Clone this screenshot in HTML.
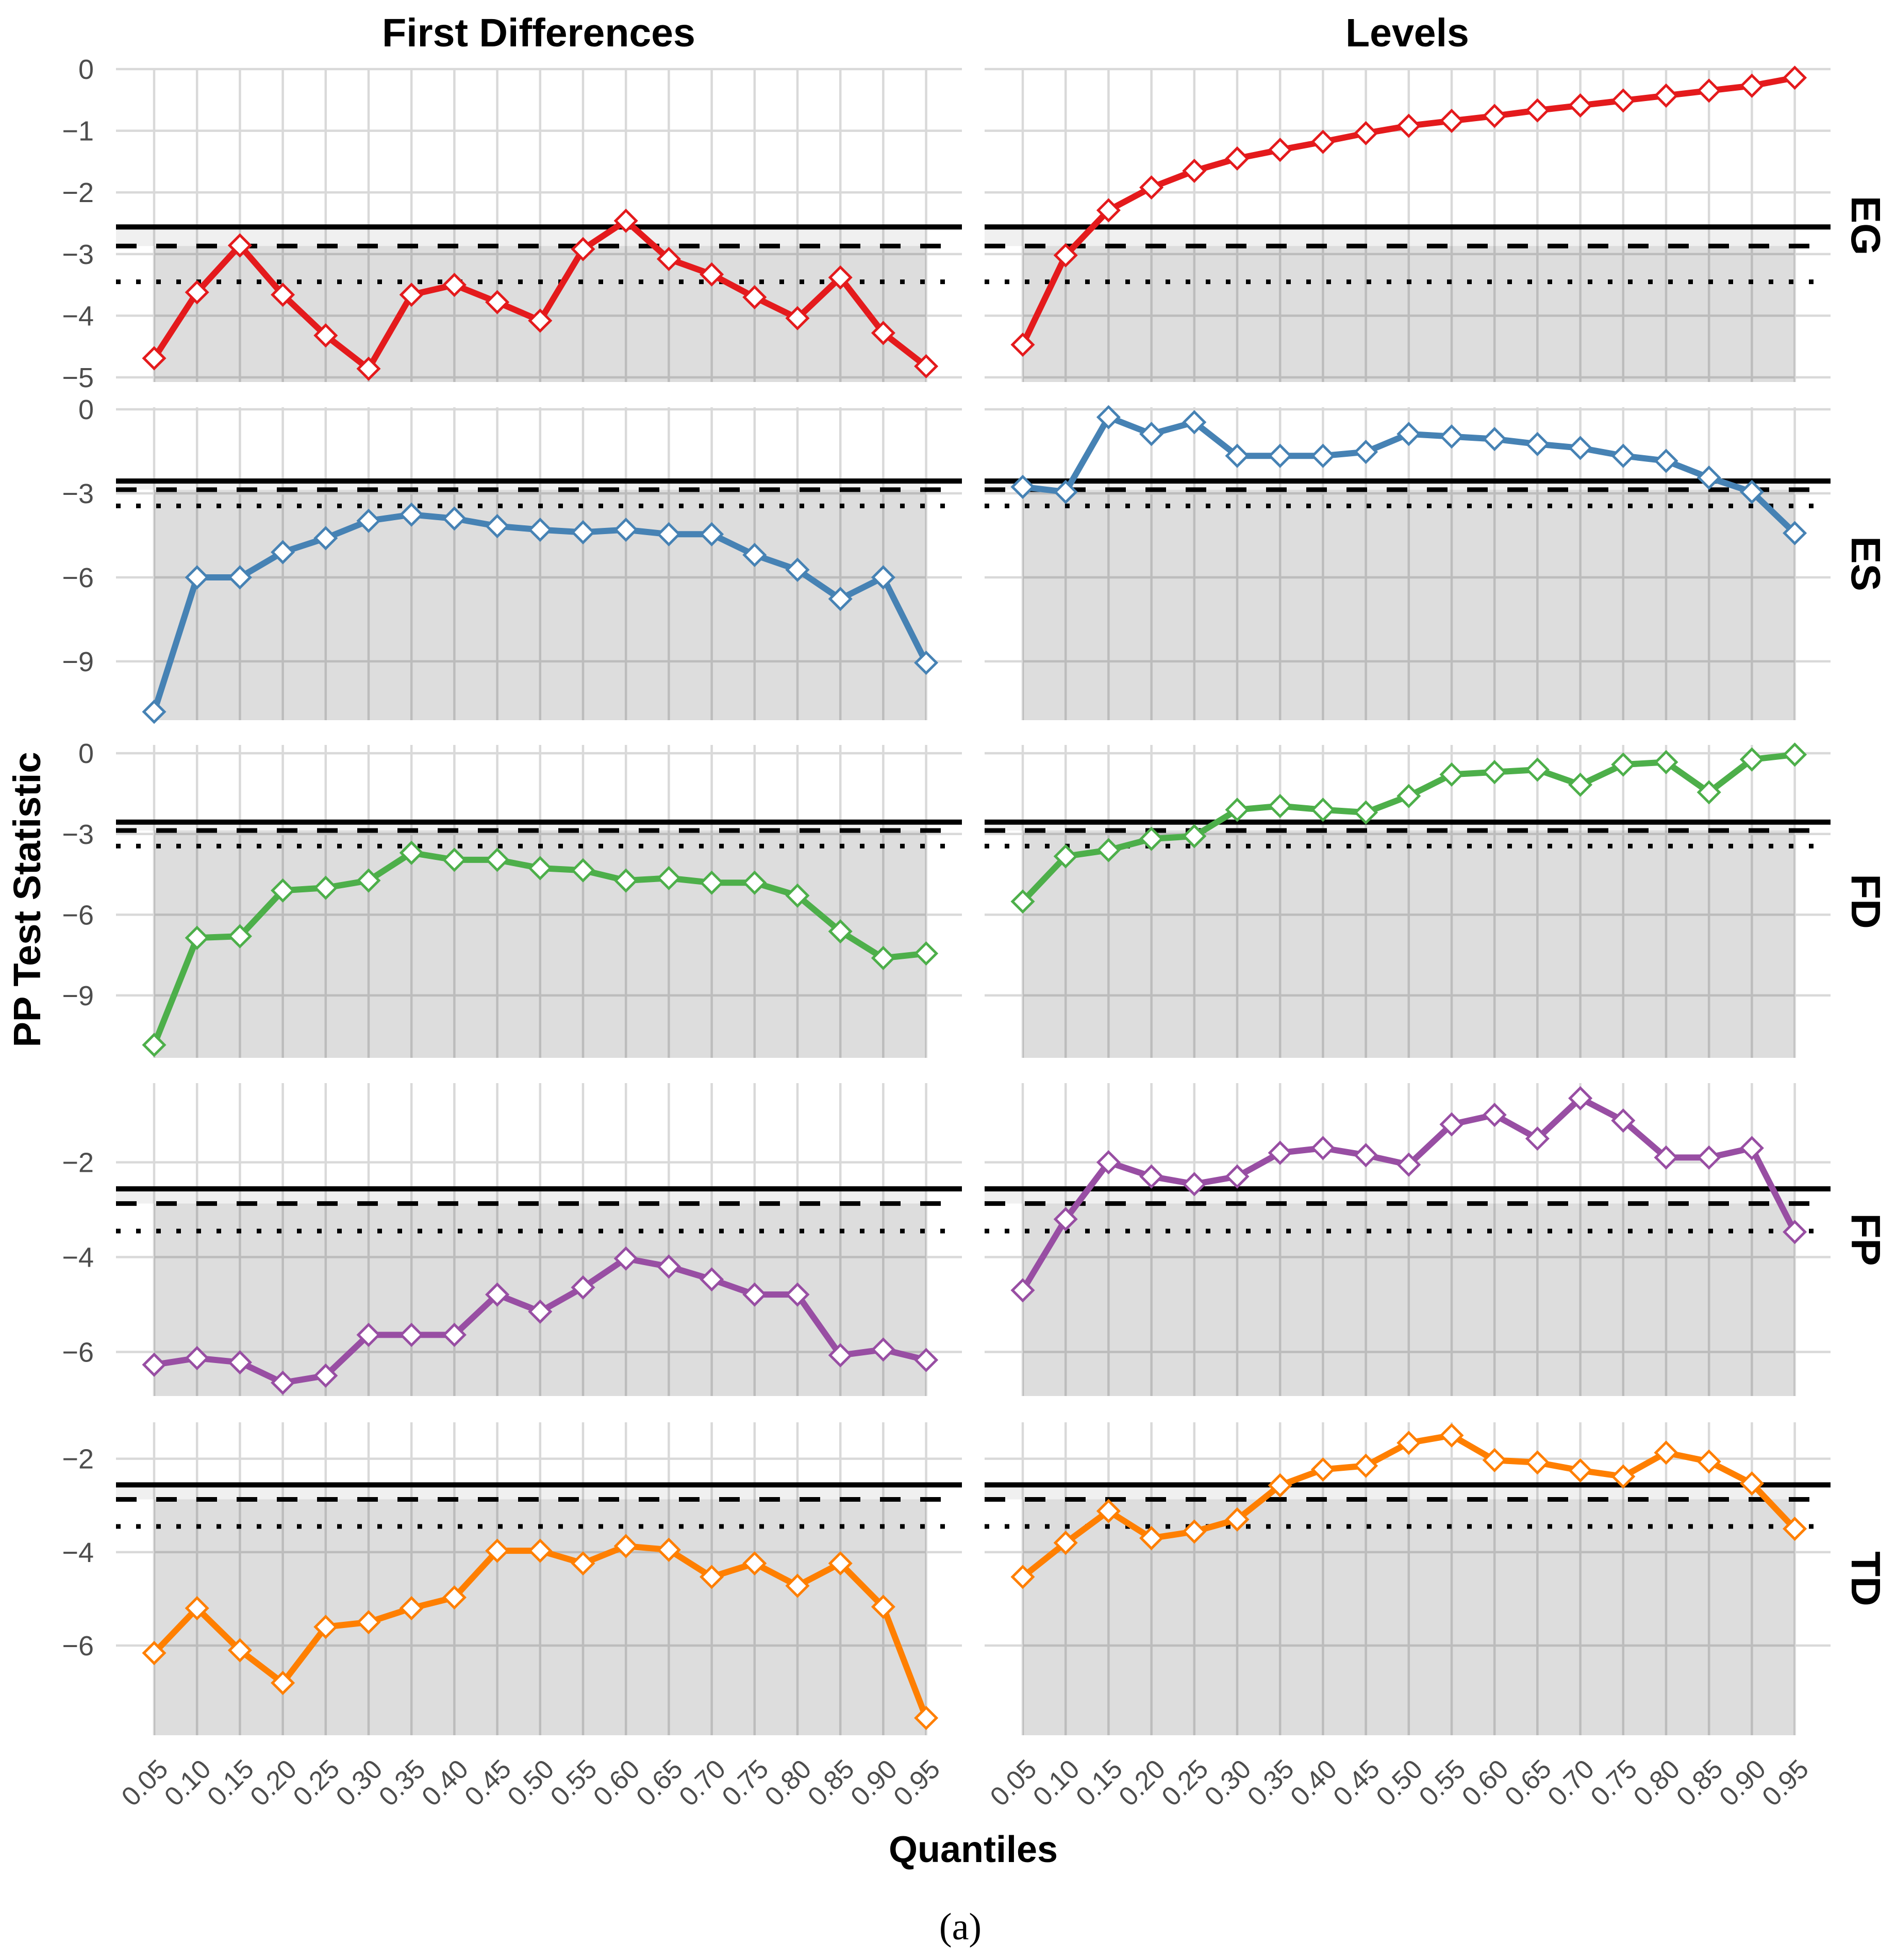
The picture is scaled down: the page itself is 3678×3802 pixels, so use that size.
<!DOCTYPE html>
<html><head><meta charset="utf-8"><style>
html,body{margin:0;padding:0;background:#fff}
svg{display:block}
</style></head><body>
<svg id="chart" xmlns="http://www.w3.org/2000/svg" width="3678" height="3802" viewBox="0 0 3678 3802">
<rect width="3678" height="3802" fill="#fff"/>
<text x="1045" y="90" font-family="Liberation Sans, sans-serif" font-weight="bold" font-size="77" text-anchor="middle" fill="#000">First Differences</text>
<text x="2730" y="90" font-family="Liberation Sans, sans-serif" font-weight="bold" font-size="77" text-anchor="middle" fill="#000">Levels</text>
<text transform="translate(78,1745) rotate(-90)" font-family="Liberation Sans, sans-serif" font-weight="bold" font-size="74" text-anchor="middle" fill="#000">PP Test Statistic</text>
<text x="1888" y="3612" font-family="Liberation Sans, sans-serif" font-weight="bold" font-size="72" text-anchor="middle" fill="#000">Quantiles</text>
<text x="1863" y="3762" font-family="Liberation Serif, serif" font-size="74" text-anchor="middle" fill="#000">(a)</text>
<g id="plots"></g>
</svg>
<script>
const quantiles = ["0.05","0.10","0.15","0.20","0.25","0.30","0.35","0.40","0.45","0.50","0.55","0.60","0.65","0.70","0.75","0.80","0.85","0.90","0.95"];
const rowNames = ["EG","ES","FD","FP","TD"];
const rowColors = ["#e41a1c","#4682b4","#4daf4a","#984ea3","#ff7f00"];
const critValues = [-2.56,-2.87,-3.45];
const egTicks = [0,-1,-2,-3,-4,-5];
const esTicks = [0,-3,-6,-9];
const fdTicks = [0,-3,-6,-9];
const fpTicks = [-2,-4,-6];
const tdTicks = [-2,-4,-6];
const rowDomains = [[0,-5.075],[0.074,-11.1],[0.31,-11.32],[-0.33,-6.93],[-1.22,-7.92]];
const egDiff = [-4.69,-3.62,-2.86,-3.66,-4.32,-4.86,-3.66,-3.5,-3.78,-4.08,-2.92,-2.46,-3.08,-3.33,-3.7,-4.04,-3.38,-4.28,-4.82];
const egLevel = [-4.47,-3.02,-2.29,-1.92,-1.65,-1.45,-1.31,-1.18,-1.04,-0.92,-0.84,-0.76,-0.67,-0.59,-0.51,-0.43,-0.35,-0.27,-0.14];
const esDiff = [-10.8,-6.0,-6.0,-5.1,-4.6,-3.98,-3.76,-3.9,-4.17,-4.3,-4.39,-4.3,-4.46,-4.46,-5.2,-5.73,-6.77,-6.0,-9.05];
const esLevel = [-2.77,-2.95,-0.28,-0.88,-0.46,-1.66,-1.66,-1.66,-1.52,-0.88,-0.97,-1.06,-1.24,-1.38,-1.66,-1.84,-2.44,-2.95,-4.42];
const fdDiff = [-10.84,-6.86,-6.8,-5.1,-5.0,-4.73,-3.7,-3.96,-3.96,-4.27,-4.35,-4.73,-4.64,-4.81,-4.81,-5.29,-6.62,-7.61,-7.44];
const fdLevel = [-5.51,-3.83,-3.6,-3.18,-3.08,-2.1,-1.96,-2.1,-2.2,-1.59,-0.79,-0.7,-0.61,-1.17,-0.42,-0.33,-1.45,-0.23,-0.05];
const fpDiff = [-6.27,-6.13,-6.22,-6.65,-6.5,-5.64,-5.64,-5.64,-4.79,-5.15,-4.64,-4.03,-4.2,-4.47,-4.79,-4.79,-6.07,-5.95,-6.17];
const fpLevel = [-4.7,-3.2,-2.0,-2.3,-2.46,-2.3,-1.8,-1.7,-1.85,-2.05,-1.2,-1.0,-1.5,-0.65,-1.12,-1.9,-1.9,-1.7,-3.47];
const tdDiff = [-6.16,-5.2,-6.1,-6.8,-5.6,-5.5,-5.2,-4.97,-3.97,-3.97,-4.24,-3.87,-3.95,-4.53,-4.24,-4.72,-4.24,-5.17,-7.55];
const tdLevel = [-4.53,-3.8,-3.12,-3.7,-3.56,-3.3,-2.57,-2.23,-2.15,-1.66,-1.5,-2.03,-2.08,-2.25,-2.38,-1.87,-2.06,-2.53,-3.5];

const rowTicks = [egTicks,esTicks,fdTicks,fpTicks,tdTicks];
const diffSeries = [egDiff,esDiff,fdDiff,fpDiff,tdDiff];
const levelSeries = [egLevel,esLevel,fdLevel,fpLevel,tdLevel];

const NS = "http://www.w3.org/2000/svg";
const root = document.getElementById('plots');
function mk(tag, attrs, parent){
  const e = document.createElementNS(NS, tag);
  for (const k in attrs) e.setAttribute(k, attrs[k]);
  (parent||root).appendChild(e);
  return e;
}
const panelTops = [134,790,1445,2101,2759];
const panelH = 607;
const colLefts = [225,1910];
const panelW = 1641;
const firstOff = 74, stepX = 83.2;

for (let c=0;c<2;c++){
  const left = colLefts[c];
  const xs = i => left + firstOff + i*stepX;
  for (let r=0;r<5;r++){
    const top = panelTops[r], bot = top+panelH;
    const [d0,d1] = rowDomains[r];
    const ys = v => top + (d0 - v)/(d0 - d1)*panelH;
    const g = mk('g',{});
    
    
    rowTicks[r].forEach(t=>{
      const l = mk('line',{x1:left,x2:left+panelW,y1:ys(t),y2:ys(t),stroke:'#d9d9d9','stroke-width':4.5},g);
      
      
    });
    quantiles.forEach((q,i)=>{
      const l = mk('line',{x1:xs(i),x2:xs(i),y1:top,y2:bot,stroke:'#d9d9d9','stroke-width':4.5},g);
      
      
    });
    const yS = ys(critValues[0]), yD = ys(critValues[1]);
    const band = mk('rect',{x:left,y:yS,width:xs(18)-left,height:yD-yS,fill:'rgba(0,0,0,0.06)'},g);
    
    
    const shade = mk('rect',{x:xs(0),y:yD,width:xs(18)-xs(0),height:bot-yD,fill:'rgba(0,0,0,0.135)'},g);
    
    
    const l1 = mk('line',{x1:left,x2:left+panelW,y1:yS,y2:yS,stroke:'#000','stroke-width':10},g);
    
    
    const l2 = mk('line',{x1:left,x2:left+panelW-36,y1:yD,y2:yD,stroke:'#000','stroke-width':9,'stroke-dasharray':'40 38'},g);
    
    
    const yT = ys(critValues[2]);
    const l3 = mk('line',{x1:left,x2:left+panelW-20,y1:yT,y2:yT,stroke:'#000','stroke-width':9,'stroke-dasharray':'9 30'},g);
    
    
    const data = c===0 ? diffSeries[r] : levelSeries[r];
    const pts = data.map((v,i)=>xs(i)+','+ys(v)).join(' ');
    const pl = mk('polyline',{points:pts,fill:'none',stroke:rowColors[r],'stroke-width':12,'stroke-linejoin':'round'},g);
    
    
    data.forEach((v,i)=>{
      const x=xs(i), y=ys(v), s=20;
      const p = mk('polygon',{points:`${x},${y-s} ${x+s},${y} ${x},${y+s} ${x-s},${y}`,fill:'#fff',stroke:rowColors[r],'stroke-width':5},g);
      
      
    });
    if (c===0){
      rowTicks[r].forEach(t=>{
        const tx = mk('text',{x:182,y:ys(t)+19,'font-family':'Liberation Sans, sans-serif','font-size':54,'text-anchor':'end',fill:'#4d4d4d'},g);
        tx.textContent = t===0 ? '0' : '\u2212' + Math.abs(t);
        
        
      });
    } else {
      const st = mk('text',{transform:`translate(3592,${top+panelH/2}) rotate(90)`,'font-family':'Liberation Sans, sans-serif','font-weight':'bold','font-size':80,'text-anchor':'middle',fill:'#000'},g);
      st.textContent = rowNames[r];
      
      
    }
  }
  quantiles.forEach((q,i)=>{
    const tx = mk('text',{transform:`translate(${xs(i)+30},3435) rotate(-45)`,'font-family':'Liberation Sans, sans-serif','font-size':52,'text-anchor':'end',fill:'#4d4d4d'});
    tx.textContent = q;
    
    
  });
}
</script>
</body></html>
